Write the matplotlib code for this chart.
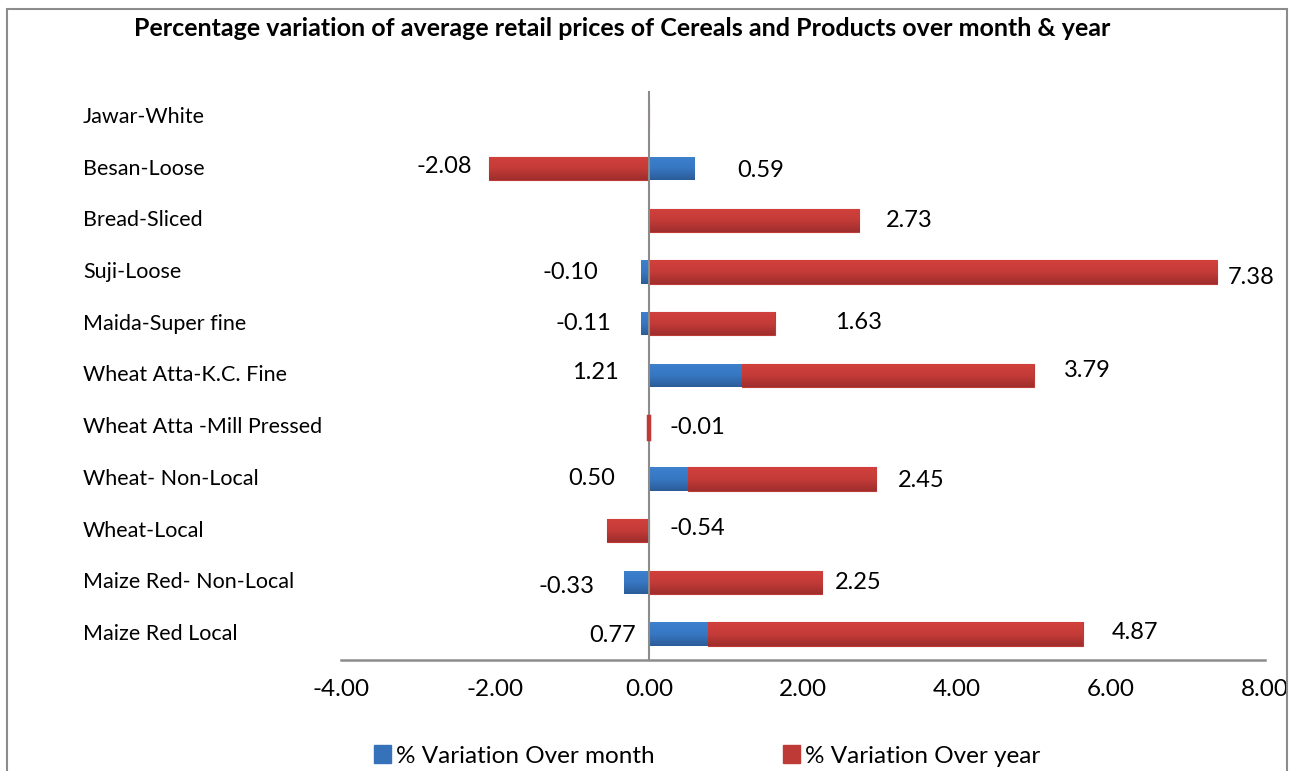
import numpy as np
import matplotlib
matplotlib.use('Agg')
import matplotlib.pyplot as plt
import matplotlib.patches as mpatches
import matplotlib.transforms as mtransforms
from matplotlib.colors import LinearSegmentedColormap

plt.rcParams['font.family'] = ['Lato', 'DejaVu Sans']

# categories, bottom to top (Excel order)
items = ['Maize Red Local', 'Maize Red- Non-Local', 'Wheat-Local', 'Wheat- Non-Local',
         'Wheat Atta -Mill Pressed', 'Wheat Atta-K.C. Fine', 'Maida-Super fine',
         'Suji-Loose', 'Bread-Sliced', 'Besan-Loose', 'Jawar-White']
over_month = [0.77, -0.33, np.nan, 0.50, np.nan, 1.21, -0.11, -0.10, np.nan, 0.59, np.nan]
over_year = [4.87, 2.25, -0.54, 2.45, -0.01, 3.79, 1.63, 7.38, 2.73, -2.08, np.nan]

# where the data labels sit (x in data units, small y shift in category units), as placed in the original
month_lbl_x = [-0.17, -0.71, None, -0.44, None, -0.39, -0.49, -0.66, None, 1.14, None]
month_lbl_dy = [-0.03, -0.08, 0, 0, 0, 0.05, 0, 0, 0, -0.03, 0]
month_lbl_ha = ['right', 'right', None, 'right', None, 'right', 'right', 'right', None, 'left', None]
year_lbl_x = [6.01, 2.42, 0.27, 3.23, 0.27, 5.39, 2.42, 7.51, 3.08, -2.30, None]
year_lbl_dy = [0.03, 0, 0.05, -0.03, 0, 0.1, 0.02, -0.1, 0, 0.05, 0]
year_lbl_ha = ['left', 'left', 'left', 'left', 'left', 'left', 'left', 'left', 'left', 'right', None]

blue = '#3672B9'
red = '#BE3A37'
blue_grad = LinearSegmentedColormap.from_list('b', ['#2B5C99', '#3777C2', '#3D80CD'])
red_grad = LinearSegmentedColormap.from_list('r', ['#9E2E2C', '#C43B38', '#D2403C'])

m = np.array(over_month, dtype=float)
yv = np.array(over_year, dtype=float)
m0 = np.nan_to_num(m)
# Excel stacking: positives stack on positives, negatives on negatives
year_left = np.where(yv >= 0, np.maximum(m0, 0), np.minimum(m0, 0))

fig = plt.figure(figsize=(13.1, 7.71), dpi=100)
ax = fig.add_axes([341 / 1310, 1 - 660 / 771, 924 / 1310, 569 / 771])

pos = np.arange(len(items))
h = 0.45
b1 = ax.barh(pos, m0, height=h, color=blue, label='% Variation Over month')
b2 = ax.barh(pos, np.nan_to_num(yv), left=year_left, height=h, color=red, edgecolor=red, lw=0.8,
             label='% Variation Over year')

ax.set_xlim(-4, 8)
ax.set_ylim(-0.5, len(items) - 0.5)

# vertical gradient fill like the Excel bars
grad = np.linspace(0, 1, 64).reshape(-1, 1)
for bars, cmap in [(b1, blue_grad), (b2, red_grad)]:
    for p in bars:
        if p.get_width() == 0:
            continue
        if abs(p.get_width()) < 0.05:
            # hairline bar: Excel still shows a sliver
            p.set_linewidth(2.5)
            p.set_zorder(4)
            continue
        x0, y0 = p.get_x(), p.get_y()
        x1, y1 = x0 + p.get_width(), y0 + p.get_height()
        im = ax.imshow(grad, cmap=cmap, extent=[min(x0, x1), max(x0, x1), y0, y1],
                       origin='lower', aspect='auto', zorder=2)
        im.set_clip_path(p)

ax.set_xlim(-4, 8)
ax.set_ylim(-0.5, len(items) - 0.5)
ticks = np.arange(-4, 8.1, 2)
ax.set_xticks(ticks)
ax.set_xticklabels(['%.2f' % t for t in ticks], fontsize=17.5)
ax.tick_params(axis='x', length=0, pad=14)
ax.set_yticks([])
for s in ['top', 'right', 'left']:
    ax.spines[s].set_visible(False)
ax.spines['bottom'].set_color('#8c8c8c')
ax.spines['bottom'].set_linewidth(1.8)
ax.axvline(0, color='#8c8c8c', lw=1.5, zorder=3)

# data labels
for i in range(len(items)):
    if not np.isnan(m[i]):
        ax.text(month_lbl_x[i], pos[i] + month_lbl_dy[i], '%.2f' % m[i], ha=month_lbl_ha[i],
                va='center', fontsize=17)
    if not np.isnan(yv[i]):
        ax.text(year_lbl_x[i], pos[i] + year_lbl_dy[i], '%.2f' % yv[i], ha=year_lbl_ha[i],
                va='center', fontsize=17)

# category names, left aligned at the left of the chart
trans = mtransforms.blended_transform_factory(fig.transFigure, ax.transData)
for i, name in enumerate(items):
    ax.text(83 / 1310, pos[i], name, transform=trans, ha='left', va='center', fontsize=15.5)

fig.text(622 / 1310, 1 - 28 / 771, 'Percentage variation of average retail prices of Cereals and Products over month & year',
         ha='center', va='center', fontsize=18, fontweight='bold')

handles = [mpatches.Patch(color=blue, label='% Variation Over month'),
           mpatches.Patch(color=red, label='% Variation Over year')]
fig.legend(handles=handles, loc='center', bbox_to_anchor=(707 / 1310, 15 / 771), ncol=2, frameon=False,
           fontsize=17.5, handlelength=0.7, handleheight=0.7, handletextpad=0.2, columnspacing=5.3)

border = mpatches.Rectangle((7 / 1310, -0.05), 1280 / 1310, 1 - 9 / 771 + 0.05, transform=fig.transFigure,
                            fill=False, edgecolor='#8c8c8c', lw=1.5, clip_on=False)
fig.patches.append(border)

plt.savefig('out.png', dpi=100)
